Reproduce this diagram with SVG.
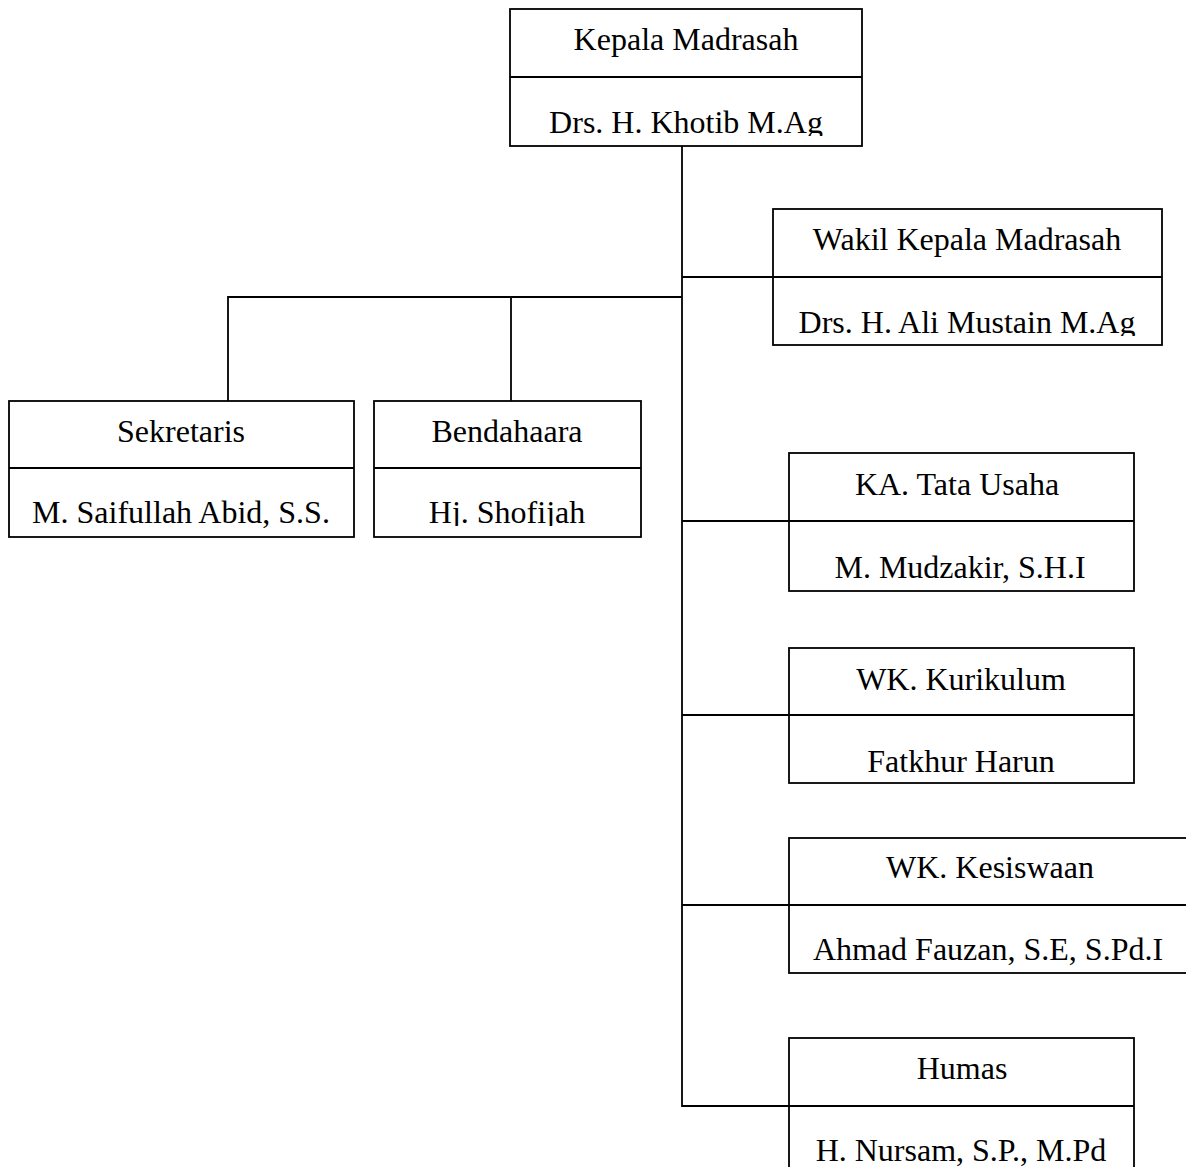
<svg xmlns="http://www.w3.org/2000/svg" width="1186" height="1167" viewBox="0 0 1186 1167">
<style>
.box{fill:#fff;stroke:#000;stroke-width:1.8}
.div{stroke:#000;stroke-width:1.8}
.conn{fill:none;stroke:#000;stroke-width:1.8}
text{font-family:"Liberation Serif","Times New Roman",serif;font-size:32px;fill:#000;text-anchor:middle}
</style>
<defs>
<clipPath id="c1"><rect x="510" y="77" width="352" height="59"/></clipPath>
<clipPath id="c2"><rect x="773" y="277" width="389" height="59"/></clipPath>
<clipPath id="c3"><rect x="374" y="468" width="267" height="58"/></clipPath>
</defs>
<g id="connectors">
<path class="conn" d="M682 146 V1106 H789"/>
<path class="conn" d="M682 277 H773"/>
<path class="conn" d="M682 297 H228 V401"/>
<path class="conn" d="M511 297 V401"/>
<path class="conn" d="M682 521 H789"/>
<path class="conn" d="M682 715 H789"/>
<path class="conn" d="M682 905 H789"/>
</g>
<g id="kepala">
<rect class="box" x="510" y="9" width="352" height="137"/>
<line class="div" x1="510" y1="77" x2="862" y2="77"/>
<text x="686" y="50">Kepala Madrasah</text>
<text x="686" y="133" clip-path="url(#c1)">Drs. H. Khotib M.Ag</text>
</g>
<g id="wakil">
<rect class="box" x="773" y="209" width="389" height="136"/>
<line class="div" x1="773" y1="277" x2="1162" y2="277"/>
<text x="967" y="250">Wakil Kepala Madrasah</text>
<text x="967" y="333" clip-path="url(#c2)">Drs. H. Ali Mustain M.Ag</text>
</g>
<g id="sekretaris">
<rect class="box" x="9" y="401" width="345" height="136"/>
<line class="div" x1="9" y1="468" x2="354" y2="468"/>
<text x="181" y="442">Sekretaris</text>
<text x="181" y="523">M. Saifullah Abid, S.S.</text>
</g>
<g id="bendahara">
<rect class="box" x="374" y="401" width="267" height="136"/>
<line class="div" x1="374" y1="468" x2="641" y2="468"/>
<text x="507" y="442">Bendahaara</text>
<text x="507" y="523" clip-path="url(#c3)">Hj. Shofijah</text>
</g>
<g id="tatausaha">
<rect class="box" x="789" y="453" width="345" height="138"/>
<line class="div" x1="789" y1="521" x2="1134" y2="521"/>
<text x="957" y="495">KA. Tata Usaha</text>
<text x="960" y="578">M. Mudzakir, S.H.I</text>
</g>
<g id="kurikulum">
<rect class="box" x="789" y="648" width="345" height="135"/>
<line class="div" x1="789" y1="715" x2="1134" y2="715"/>
<text x="961" y="690">WK. Kurikulum</text>
<text x="961" y="772">Fatkhur Harun</text>
</g>
<g id="kesiswaan">
<rect class="box" x="789" y="838" width="402" height="135"/>
<line class="div" x1="789" y1="905" x2="1191" y2="905"/>
<text x="990" y="878">WK. Kesiswaan</text>
<text x="988" y="960">Ahmad Fauzan, S.E, S.Pd.I</text>
</g>
<g id="humas">
<rect class="box" x="789" y="1038" width="345" height="137"/>
<line class="div" x1="789" y1="1106" x2="1134" y2="1106"/>
<text x="962" y="1079">Humas</text>
<text x="961" y="1161">H. Nursam, S.P., M.Pd</text>
</g>
</svg>
